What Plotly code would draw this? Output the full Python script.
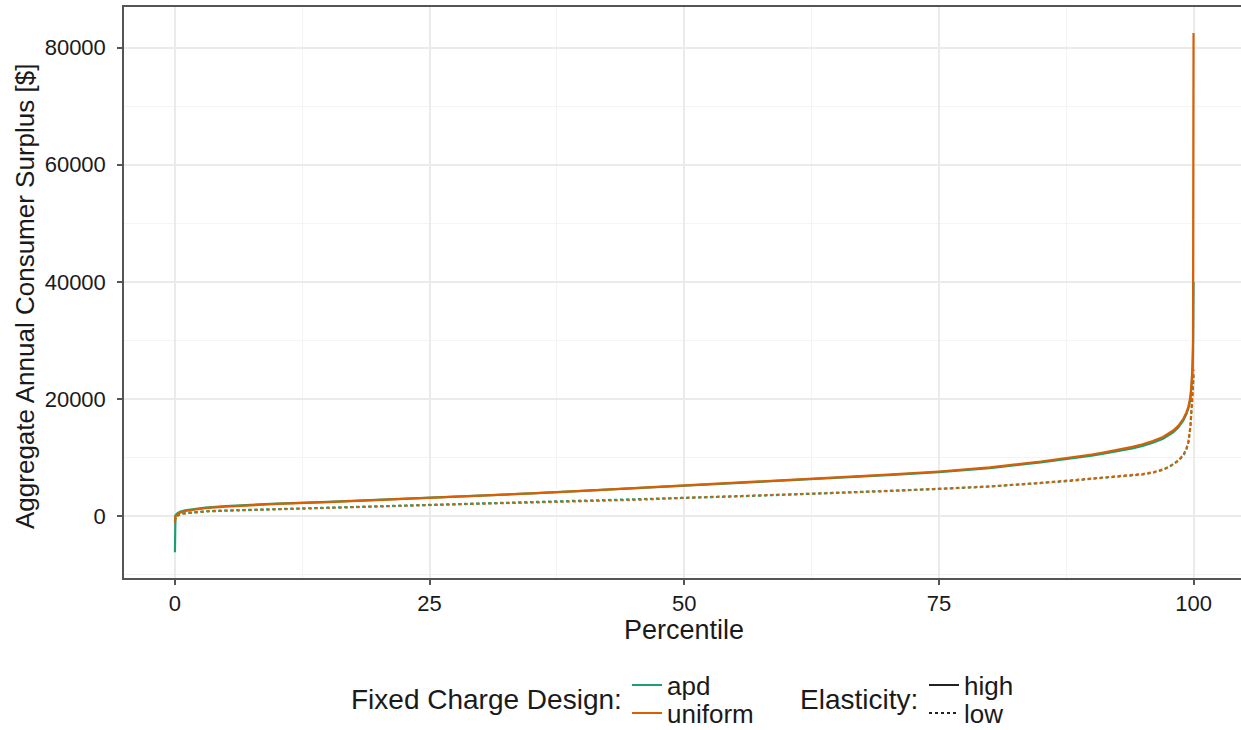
import plotly.graph_objects as go

# ---------------- data ----------------
percentile = [0, 0.05, 0.2, 0.5, 1, 2, 3, 5, 7.5, 10, 15, 20, 25, 30, 35, 40, 45, 50, 55, 60,
              65, 70, 75, 80, 85, 88, 90, 91, 92, 93, 94, 95, 96, 97, 97.5, 98, 98.5, 99,
              99.3, 99.5, 99.7, 99.8, 99.9, 99.95, 100]

apd_high = [-6200, 100, 400, 700, 950, 1250, 1450, 1700, 1920, 2100, 2400, 2750, 3080, 3420,
            3850, 4290, 4720, 5150, 5550, 5990, 6470, 6960, 7500, 8180, 9150, 9780, 10300,
            10580, 10870, 11200, 11540, 11970, 12500, 13200, 13700, 14300, 15100, 16300,
            17400, 18400, 20000, 21800, 24500, 28000, 40000]
uniform_high = [-1200, 0, 250, 550, 850, 1150, 1350, 1600, 1850, 2050, 2350, 2700, 3050, 3400,
                3850, 4300, 4750, 5200, 5600, 6050, 6550, 7050, 7600, 8300, 9300, 9950, 10500,
                10800, 11100, 11450, 11800, 12250, 12800, 13500, 14000, 14600, 15400, 16600,
                17700, 18700, 20500, 22500, 26000, 30000, 82500]
apd_low = [-900, -150, 50, 300, 480, 680, 800, 930, 1050, 1170, 1380, 1620, 1870, 2120, 2320,
           2520, 2770, 3080, 3330, 3630, 3930, 4230, 4620, 5020, 5600, 6000, 6350, 6500, 6650,
           6830, 6950, 7100, 7400, 7900, 8300, 8800, 9450, 10300, 11400, 12600, 15300, 17500,
           20000, 22000, 24000]
uniform_low = [-800, -200, 0, 250, 450, 650, 780, 900, 1030, 1150, 1350, 1600, 1850, 2100, 2300,
               2500, 2750, 3100, 3350, 3650, 3950, 4250, 4650, 5050, 5650, 6050, 6400, 6550,
               6700, 6880, 7000, 7150, 7450, 7950, 8350, 8850, 9500, 10400, 11500, 12700, 15500,
               17800, 20500, 22500, 25000]

x_ticks = [0, 25, 50, 75, 100]
x_tick_labels = ["0", "25", "50", "75", "100"]
y_ticks = [0, 20000, 40000, 60000, 80000]
y_tick_labels = ["0", "20000", "40000", "60000", "80000"]

design_names = ["apd", "uniform"]
elasticity_names = ["high", "low"]

# ---------------- styling ----------------
GREEN = "#1b9e77"
ORANGE = "#d95f02"
FONT = "Liberation Sans, Arial, Helvetica, sans-serif"
TXT = "#1a1a1a"
GRID_MAJOR = "#ebebeb"
GRID_MINOR = "#f4f4f4"
AXIS_COL = "#555555"

W, H = 1241, 730
L, R, T, B = 124, 0, 7, 152


def py(pix):
    # pixel row -> paper y
    return (H - B - pix) / (H - T - B)


def px(pix):
    return (pix - L) / (W - L - R)


fig = go.Figure()

series = [
    (apd_high, GREEN, "solid"),
    (uniform_high, ORANGE, "solid"),
    (apd_low, GREEN, "dot"),
    (uniform_low, ORANGE, "dot"),
]
for vals, col, dash in series:
    fig.add_trace(go.Scatter(x=percentile, y=vals, mode="lines",
                             line=dict(color=col, width=2.2, dash=dash),
                             showlegend=False, hoverinfo="skip"))

# legend entries: one small legend per entry so rows can sit close together
legend_specs = [
    (design_names[0], GREEN, "solid", "legend", 632, 685),
    (design_names[1], ORANGE, "solid", "legend2", 632, 713),
    (elasticity_names[0], "#222222", "solid", "legend3", 929, 685),
    (elasticity_names[1], "#222222", "dot", "legend4", 929, 713),
]
legend_layout = {}
for name, col, dash, lg, lx, ly in legend_specs:
    fig.add_trace(go.Scatter(x=[None], y=[None], mode="lines", name=name,
                             line=dict(color=col, width=2, dash=dash), legend=lg))
    legend_layout[lg] = dict(xref="container", yref="container",
                             x=(lx - 5) / W, xanchor="left",
                             y=1 - ly / H, yanchor="middle",
                             orientation="v", font=dict(size=26, color=TXT, family=FONT),
                             bgcolor="rgba(0,0,0,0)", borderwidth=0,
                             itemwidth=30, tracegroupgap=0)

fig.update_layout(
    width=W, height=H,
    margin=dict(l=L, r=R, t=T, b=B, autoexpand=False),
    paper_bgcolor="white", plot_bgcolor="white",
    font=dict(family=FONT, color=TXT),
    xaxis=dict(range=[-5, 104.66], tickvals=x_ticks, ticktext=x_tick_labels,
               tickfont=dict(size=22, color=TXT), automargin=False,
               showgrid=True, gridcolor=GRID_MAJOR, gridwidth=1.5,
               minor=dict(dtick=12.5, tick0=0, showgrid=True, gridcolor=GRID_MINOR, gridwidth=1),
               showline=True, linecolor=AXIS_COL, linewidth=1.5, mirror=True,
               ticks="outside", ticklen=5, tickcolor=AXIS_COL, tickwidth=1.5,
               zeroline=False),
    yaxis=dict(range=[-10600, 86960], tickvals=y_ticks, ticktext=y_tick_labels,
               tickfont=dict(size=22, color=TXT), automargin=False, ticklabelstandoff=7,
               showgrid=True, gridcolor=GRID_MAJOR, gridwidth=1.5,
               minor=dict(dtick=10000, tick0=0, showgrid=True, gridcolor=GRID_MINOR, gridwidth=1),
               showline=True, linecolor=AXIS_COL, linewidth=1.5, mirror=False,
               ticks="outside", ticklen=5, tickcolor=AXIS_COL, tickwidth=1.5,
               zeroline=False),
    annotations=[
        dict(text="Percentile", xref="paper", yref="paper", x=px(684), y=py(630),
             xanchor="center", yanchor="middle", showarrow=False,
             font=dict(size=27, color=TXT)),
        dict(text="Aggregate Annual Consumer Surplus [$]", xref="paper", yref="paper",
             x=px(25), y=py(297), xanchor="center", yanchor="middle", textangle=-90,
             showarrow=False, font=dict(size=26, color=TXT)),
        dict(text="Fixed Charge Design:", xref="paper", yref="paper", x=px(624), y=py(699),
             xanchor="right", yanchor="middle", showarrow=False,
             font=dict(size=28, color=TXT)),
        dict(text="Elasticity:", xref="paper", yref="paper", x=px(920), y=py(699),
             xanchor="right", yanchor="middle", showarrow=False,
             font=dict(size=28, color=TXT)),
    ],
    **legend_layout,
)

fig.write_html("out.html", config={"displayModeBar": False},
               post_script="document.body.style.margin='0px';")
